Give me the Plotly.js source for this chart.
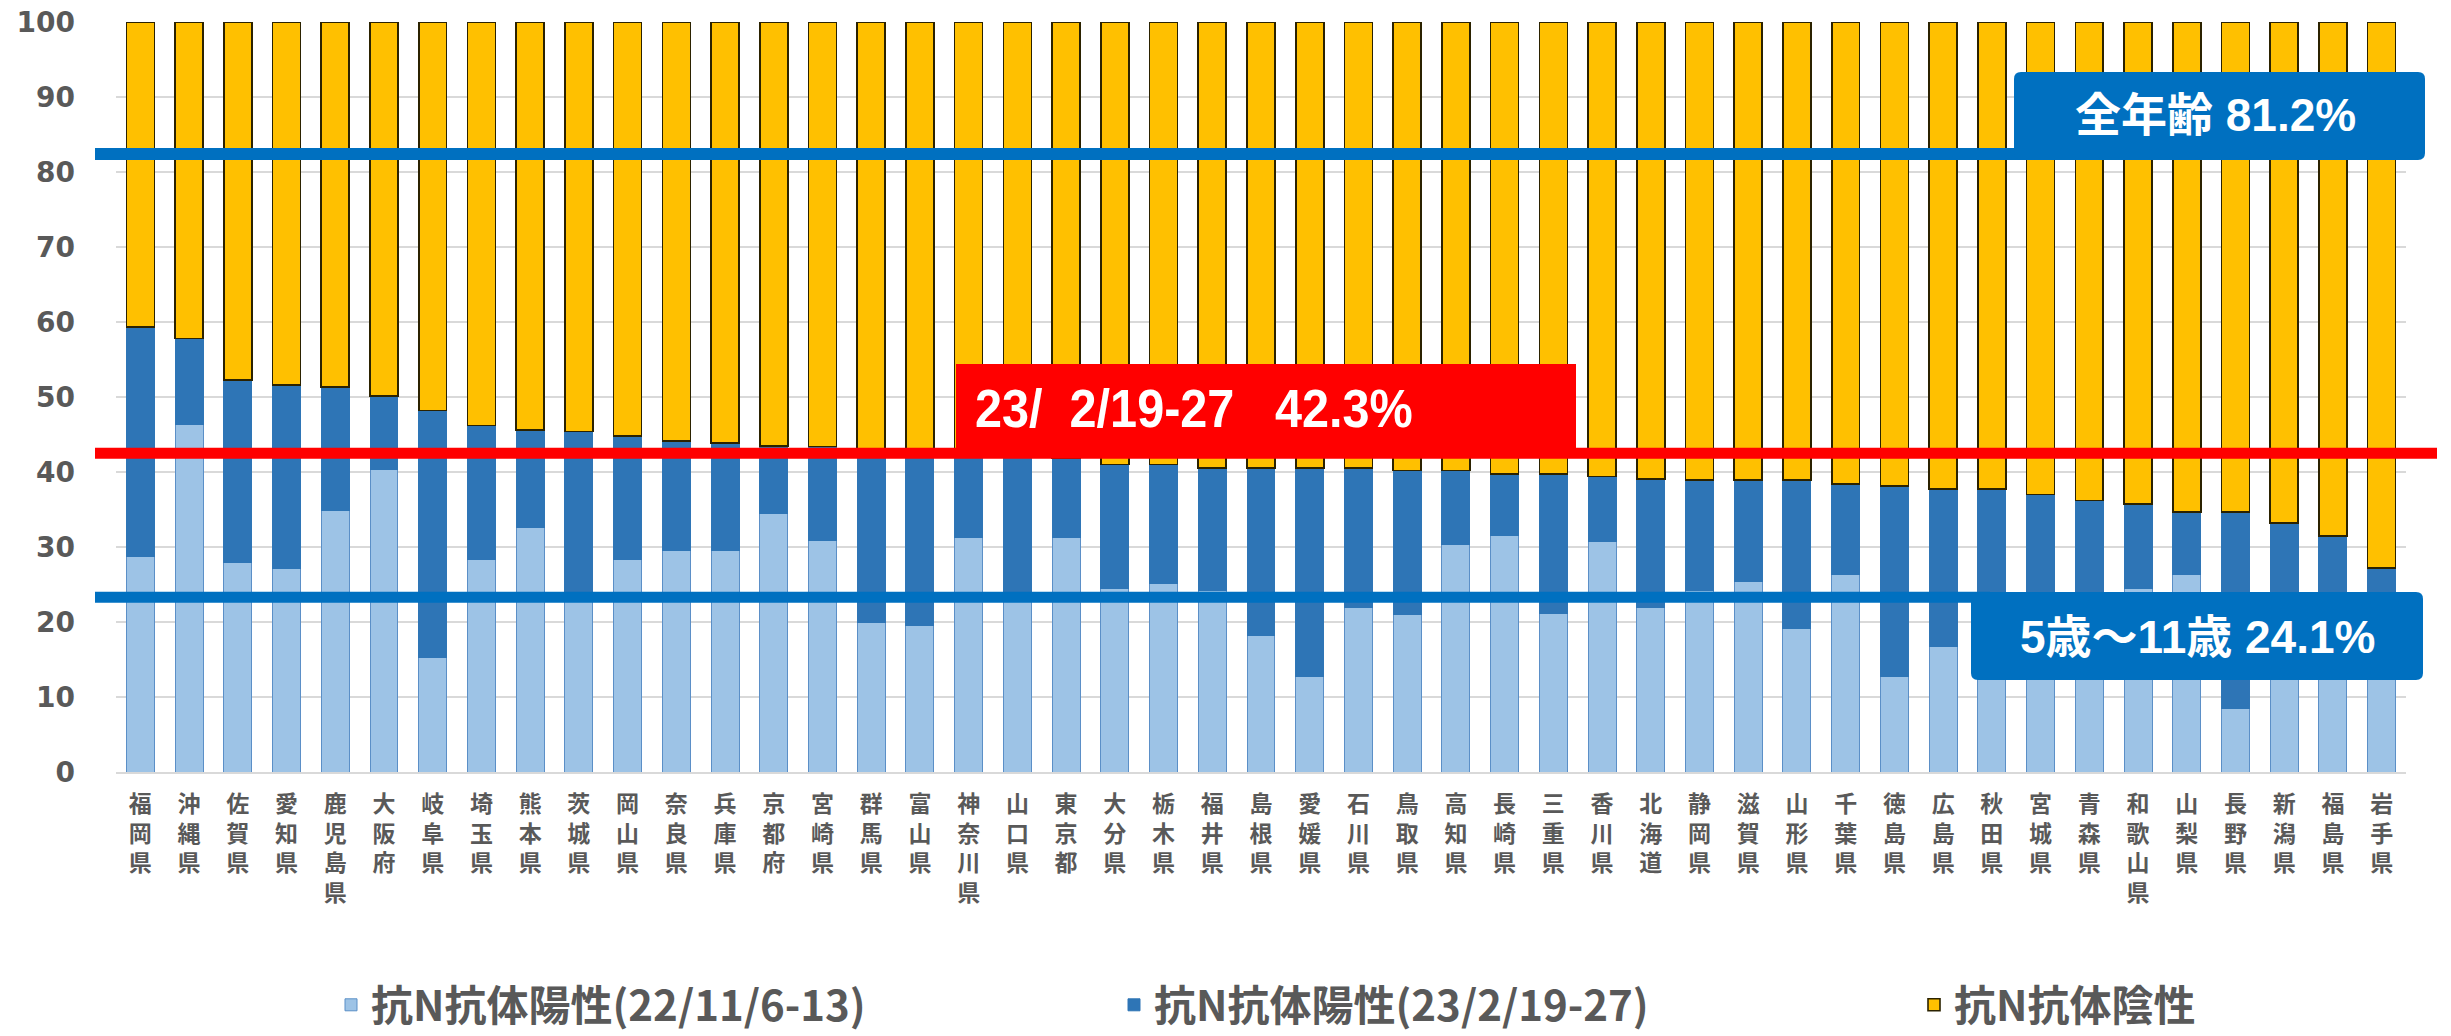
<!DOCTYPE html>
<html>
<head>
<meta charset="utf-8">
<script src="https://cdn.plot.ly/plotly-3.0.1.min.js"></script>
<style>
  html, body { margin: 0; padding: 0; background: #ffffff; }
  #chart { width: 2451px; height: 1036px; }
  /* the red label in the reference uses a narrow bold face */
  #chart .annotation[data-index="0"] .annotation-text {
    transform-box: fill-box; transform-origin: 0% 50%; transform: scaleX(0.9);
  }
</style>
</head>
<body>
<div id="chart"></div>
<script>
// ---- Data ----
const prefectures = [
  "福岡県","沖縄県","佐賀県","愛知県","鹿児島県","大阪府","岐阜県","埼玉県","熊本県","茨城県",
  "岡山県","奈良県","兵庫県","京都府","宮崎県","群馬県","富山県","神奈川県","山口県","東京都",
  "大分県","栃木県","福井県","島根県","愛媛県","石川県","鳥取県","高知県","長崎県","三重県",
  "香川県","北海道","静岡県","滋賀県","山形県","千葉県","徳島県","広島県","秋田県","宮城県",
  "青森県","和歌山県","山梨県","長野県","新潟県","福島県","岩手県"
];
// 抗N抗体陽性 (22/11/6-13)
const positiveNov = [
  28.8,46.3,27.9,27.2,34.9,40.3,15.3,28.4,32.6,23.3,
  28.4,29.6,29.6,34.5,30.9,20.0,19.5,31.3,23.3,31.3,
  24.5,25.1,24.2,18.2,12.7,21.9,21.0,30.4,31.6,21.2,
  30.7,21.9,24.2,25.4,19.2,26.4,12.7,16.7,18.0,20.5,
  19.5,24.5,26.4,8.5,20.0,21.0,19.0
];
// 抗N抗体陽性 total at 23/2/19-27
const positiveFebTotal = [
  59.3,57.8,52.3,51.6,51.3,50.1,48.2,46.2,45.6,45.4,
  44.8,44.1,43.9,43.5,43.4,43.1,42.8,42.4,42.1,41.8,
  41.0,41.0,40.5,40.5,40.5,40.5,40.2,40.2,39.7,39.7,
  39.4,39.1,38.9,38.9,38.9,38.4,38.1,37.7,37.7,37.0,
  36.2,35.7,34.7,34.7,33.2,31.5,27.2
];
const seriesNames = ["抗N抗体陽性(22/11/6-13)", "抗N抗体陽性(23/2/19-27)", "抗N抗体陰性"];
const yTicks = [0,10,20,30,40,50,60,70,80,90,100];

// reference lines (as drawn) and their labels
const lineAllAges = 82.4;   const labelAllAges = "全年齢 81.2%";
const lineFeb = 42.5;       const labelFeb = "23/&nbsp;&nbsp;2/19-27&nbsp;&nbsp;&nbsp;42.3%";
const lineKids = 23.3;      const labelKids = "5歳～11歳 24.1%";

// ---- derived series ----
const febIncrease = positiveFebTotal.map((t, i) => +(t - positiveNov[i]).toFixed(1));
const negative = positiveFebTotal.map(t => +(100 - t).toFixed(1));
const tickText = prefectures.map(p => p.split("").join("<br>"));

// ---- layout geometry (pixels) ----
const W = 2451, H = 1036;
const L = 116, R = 2406, T = 22, B = 772;
const px = p => (p - L) / (R - L);
const py = p => (B - p) / (B - T);
function roundRect(x0, x1, yTop, yBot, r) {
  const a = px(x0), b = px(x1), top = py(yTop), bot = py(yBot);
  const rx = r / (R - L), ry = r / (B - T);
  return `M${a+rx},${top} L${b-rx},${top} Q${b},${top} ${b},${top-ry} L${b},${bot+ry} Q${b},${bot} ${b-rx},${bot} ` +
         `L${a+rx},${bot} Q${a},${bot} ${a},${bot+ry} L${a},${top-ry} Q${a},${top} ${a+rx},${top} Z`;
}

const barCommon = { type: "bar", x: prefectures, hoverinfo: "x+y" };
const traces = [
  Object.assign({}, barCommon, {
    name: seriesNames[0], y: positiveNov, legend: "legend",
    marker: { color: "#9DC3E6", line: { color: "#5B8FC7", width: 1 } }
  }),
  Object.assign({}, barCommon, {
    name: seriesNames[1], y: febIncrease, legend: "legend2",
    marker: { color: "#2E75B6", line: { color: "#2E75B6", width: 1 } }
  }),
  Object.assign({}, barCommon, {
    name: seriesNames[2], y: negative, legend: "legend3",
    marker: { color: "#FFC000", line: { color: "#2b2200", width: 1.6 } }
  })
];

const shapes = [
  { type: "line", xref: "paper", yref: "y", x0: px(95), x1: px(2030), y0: lineAllAges, y1: lineAllAges,
    line: { color: "#0070C0", width: 12 } },
  { type: "line", xref: "paper", yref: "y", x0: px(95), x1: px(2437), y0: lineFeb, y1: lineFeb,
    line: { color: "#FF0000", width: 11 } },
  { type: "line", xref: "paper", yref: "y", x0: px(95), x1: px(1990), y0: lineKids, y1: lineKids,
    line: { color: "#0070C0", width: 11 } },
  { type: "rect", xref: "paper", yref: "paper", x0: px(956), x1: px(1576), y0: py(452), y1: py(364),
    fillcolor: "#FF0000", line: { width: 0 } },
  { type: "path", xref: "paper", yref: "paper", path: roundRect(2014, 2425, 72, 160, 7),
    fillcolor: "#0070C0", line: { width: 0 } },
  { type: "path", xref: "paper", yref: "paper", path: roundRect(1971, 2423, 592, 680, 7),
    fillcolor: "#0070C0", line: { width: 0 } }
];

const annotations = [
  { xref: "paper", yref: "paper", x: px(973), y: py(408), xanchor: "left", yanchor: "middle",
    text: labelFeb, showarrow: false,
    font: { family: "Liberation Sans, Arial, sans-serif", size: 54, color: "#ffffff", weight: "bold" } },
  { xref: "paper", yref: "paper", x: px(2215), y: py(115), xanchor: "center", yanchor: "middle",
    text: labelAllAges, showarrow: false,
    font: { family: "Liberation Sans, Noto Sans CJK JP, sans-serif", size: 46, color: "#ffffff", weight: "bold" } },
  { xref: "paper", yref: "paper", x: px(2197), y: py(637), xanchor: "center", yanchor: "middle",
    text: labelKids, showarrow: false,
    font: { family: "Liberation Sans, Noto Sans CJK JP, sans-serif", size: 46, color: "#ffffff", weight: "bold" } }
];

const legendFont = { family: "Noto Sans CJK JP, sans-serif", size: 42, color: "#595959", weight: "bold" };
function legendAt(xPix) {
  return { orientation: "h", x: px(xPix), xanchor: "left", y: py(1005), yanchor: "middle",
           font: legendFont, bgcolor: "rgba(0,0,0,0)", borderwidth: 0 };
}

const layout = {
  width: W, height: H,
  margin: { l: L, r: W - R, t: T, b: H - B, pad: 0, autoexpand: false },
  paper_bgcolor: "#ffffff", plot_bgcolor: "#ffffff",
  barmode: "stack", bargap: 0.426,
  showlegend: true,
  legend: legendAt(331),
  legend2: legendAt(1114),
  legend3: legendAt(1914),
  xaxis: {
    type: "category", tickmode: "array", tickvals: prefectures, ticktext: tickText,
    tickangle: 0, showgrid: false, zeroline: false, showline: true,
    linecolor: "#d9d9d9", linewidth: 2, ticks: "",
    ticklabelstandoff: 10,
    tickfont: { family: "Noto Sans CJK JP, sans-serif", size: 23, color: "#595959", weight: "bold" },
    range: [-0.5, prefectures.length - 0.5], fixedrange: true
  },
  yaxis: {
    range: [0, 100], tickmode: "array", tickvals: yTicks, ticktext: yTicks.map(String),
    showgrid: true, gridcolor: "#d9d9d9", gridwidth: 2,
    zeroline: false, showline: false, ticks: "",
    ticklabelstandoff: 40,
    tickfont: { family: "DejaVu Sans, sans-serif", size: 28, color: "#595959", weight: "bold" },
    fixedrange: true
  },
  shapes: shapes,
  annotations: annotations
};

Plotly.newPlot("chart", traces, layout, { displayModeBar: false, staticPlot: true });
</script>
</body>
</html>
